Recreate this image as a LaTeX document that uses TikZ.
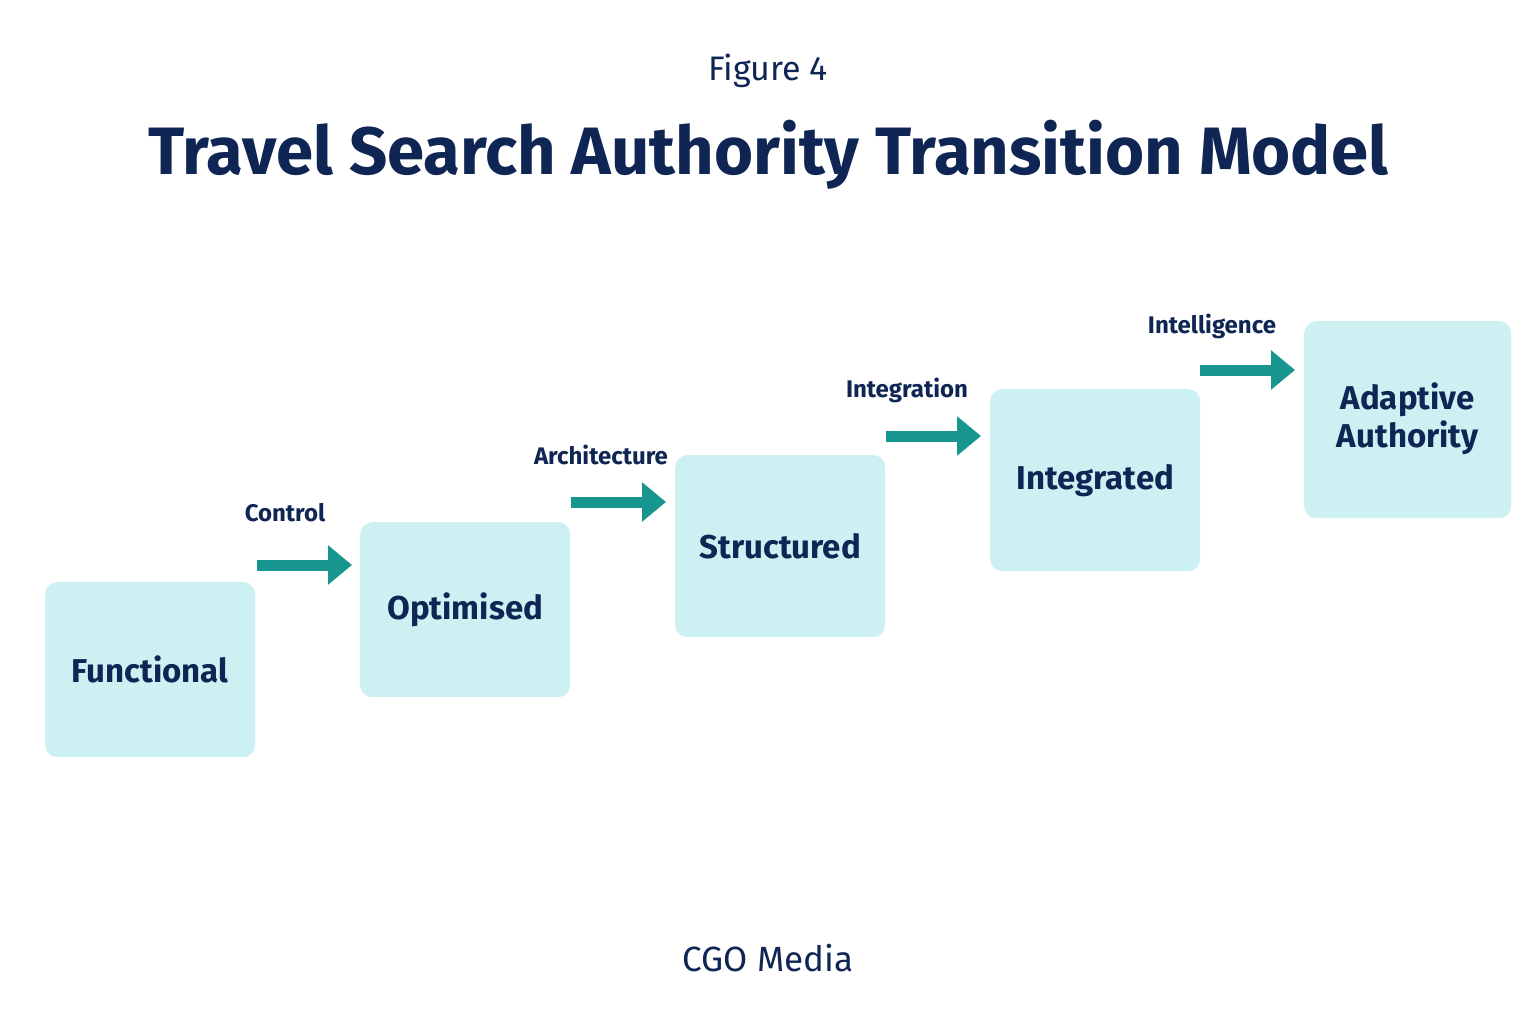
\documentclass[tikz,border=0pt]{standalone}
\usepackage{fontspec}
\setmainfont{Fira Sans}
\usetikzlibrary{arrows.meta}
\definecolor{navy}{HTML}{0F2554}
\definecolor{boxc}{HTML}{CDF1F3}
\definecolor{teal}{HTML}{16968F}
\begin{document}
\begin{tikzpicture}[x=1pt,y=-1pt,
  box/.style={fill=boxc,rounded corners=12pt,minimum width=210pt,minimum height=176pt,inner sep=0pt,
    text=navy,font=\fontsize{33}{38}\selectfont\bfseries,align=center,anchor=north west},
  arr/.style={draw=teal,line width=11pt,-{Triangle[length=24pt,width=38pt]},shorten >=8pt},
  lab/.style={text=navy,font=\fontsize{24}{28}\selectfont\bfseries}]
\useasboundingbox (0,0) rectangle (1536,1024);
\fill[white] (0,0) rectangle (1536,1024);
\node[text=navy,font=\fontsize{34}{38}\selectfont] (fig) at (768,71) {Figure 4};
\node[text=navy,font=\fontsize{67}{72}\selectfont\bfseries] (title) at (768,155) {Travel Search Authority Transition Model};
\node[text=navy,font=\fontsize{35}{38}\selectfont] (cgo) at (768,958) {CGO Media};
\node[box,minimum height=175pt] (b1) at (45,582) {Functional};
\node[box,minimum height=175pt] (b2) at (360,522) {Optimised};
\node[box,minimum height=182pt] (b3) at (675,455) {Structured};
\node[box,minimum height=182pt] (b4) at (990,389) {Integrated};
\node[box,minimum width=207pt,minimum height=197pt,text depth=10pt] (b5) at (1304,321) {Adaptive\\Authority};
\coordinate (a1s) at (257,565); \coordinate (a1e) at (360,565);
\coordinate (a2s) at (571,502); \coordinate (a2e) at (674,502);
\coordinate (a3s) at (886,436); \coordinate (a3e) at (989,436);
\coordinate (a4s) at (1200,370); \coordinate (a4e) at (1303,370);
\draw[arr] (a1s) -- (a1e);
\draw[arr] (a2s) -- (a2e);
\draw[arr] (a3s) -- (a3e);
\draw[arr] (a4s) -- (a4e);
\node[lab] (l1) at (285,513) {Control};
\node[lab] (l2) at (601,455) {Architecture};
\node[lab] (l3) at (907,390) {Integration};
\node[lab] (l4) at (1212,326) {Intelligence};
\end{tikzpicture}
\end{document}
